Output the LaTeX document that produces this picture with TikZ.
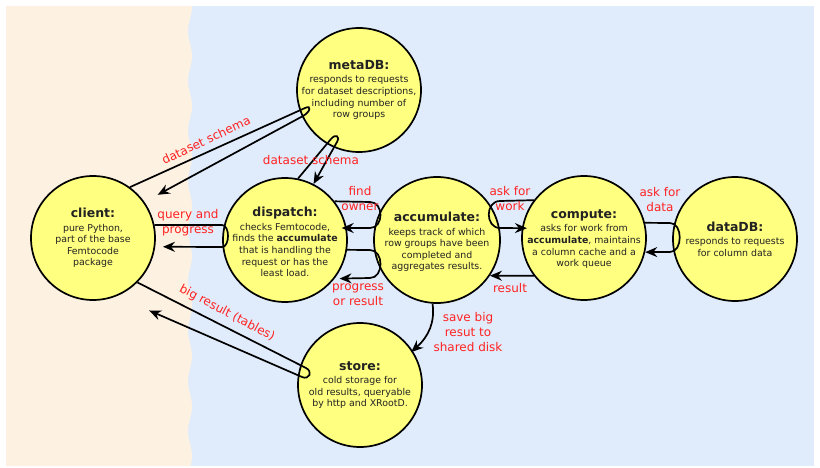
\documentclass[tikz,border=0pt]{standalone}
\usepackage{fontspec}
\setmainfont{DejaVu Sans}
\usetikzlibrary{arrows.meta,calc}
\definecolor{peach}{HTML}{FDF1E2}
\definecolor{skyb}{HTML}{E0ECFB}
\definecolor{nodey}{HTML}{FFFF80}
\definecolor{lblred}{HTML}{FF2222}
\definecolor{bodytxt}{HTML}{222222}
\newcommand\ttlfont{\fontsize{12.5}{14}\selectfont\bfseries}
\begin{document}
\begin{tikzpicture}[x=1pt,y=-1pt,
  proc/.style={circle, draw=black, line width=1.7pt, fill=nodey, minimum size=124pt, inner sep=0pt},
  txt/.style={align=center, font=\fontsize{9.4}{11.6}\selectfont, text=bodytxt, inner sep=0pt},
  lbl/.style={align=center, font=\fontsize{12}{15}\selectfont, text=lblred, inner sep=0pt},
  conn/.style={draw=black, line width=1.7pt, -{Stealth[length=12pt,width=10pt,inset=4pt]}}]
\useasboundingbox (0,0) rectangle (820,468);
% backgrounds
\fill[skyb] (180,6) rectangle (814,466);
\fill[peach] (6,6) -- plot[domain=6:466, samples=200] ({190+2*cos(7.2*(\x-6))},\x) -- (6,466) -- cycle;
% circles
\node[proc] (client) at (93,238) {};
\node[proc] (metaDB) at (359,90) {};
\node[proc] (dispatch) at (285,240) {};
\node[proc, minimum size=126pt] (accumulate) at (437,240) {};
\node[proc] (compute) at (584,238) {};
\node[proc] (dataDB) at (735,239) {};
\node[proc] (store) at (360,385) {};
% texts
\node[txt] (clientT) at (client) {{\ttlfont client:}\\[2pt]pure Python,\\part of the base\\Femtocode\\package};
\node[txt] (metaDBT) at (metaDB) {{\ttlfont metaDB:}\\[2pt]responds to requests\\for dataset descriptions,\\including number of\\row groups};
\node[txt] (dispatchT) at ([yshift=-2pt]dispatch.center) {{\ttlfont dispatch:}\\[2pt]checks Femtocode,\\finds the \textbf{accumulate}\\that is handling the\\request or has the\\least load.};
\node[txt] (accumulateT) at ([yshift=-2pt]accumulate.center) {{\ttlfont accumulate:}\\[2pt]keeps track of which\\row groups have been\\completed and\\aggregates results.};
\node[txt] (computeT) at ([yshift=-1pt]compute.center) {{\ttlfont compute:}\\[2pt]asks for work from\\\textbf{accumulate}, maintains\\a column cache and a\\work queue};
\node[txt] (dataDBT) at (dataDB) {{\ttlfont dataDB:}\\[2pt]responds to requests\\for column data};
\node[txt] (storeT) at (store) {{\ttlfont store:}\\[2pt]cold storage for\\old results, queryable\\by http and XRootD.};
% connectors
\draw[conn, shorten >=15pt] (client.54) -- (305,108) .. controls (312.3,104.7) and (310,112.2) .. (303,116) -- (client.35.5);
\draw[conn] (dispatch.78) -- (331,139) .. controls (335.4,133.6) and (340.4,135.9) .. (337,142) -- (dispatch.63);
\draw[conn, shorten >=7.7pt] (client.12) -- (222,225) .. controls (230,225) and (230,247) .. (222,247) -- (client.-8.3);
\draw[conn, shorten >=-5pt] (dispatch.38) -- (370,202) .. controls (384,202) and (384,228) .. (370,228) -- (dispatch.11);
\draw[conn, shorten >=5pt] (dispatch.-9) -- (370,250) .. controls (384,250) and (384,278) .. (370,278) -- (dispatch.-38);
\draw[conn, shorten >=-5pt] (compute.143) -- (500,201) .. controls (485,201) and (485,228) .. (500,228) -- (compute.171);
\draw[conn] (compute.14) -- (670,223) .. controls (683,223) and (683,252) .. (670,252) -- (compute.-13);
\draw[conn] (compute.217) -- (accumulate.-34);
\draw[conn, shorten >=-2pt] (accumulate.266) .. controls (435,322) and (429,336) .. (store.33);
\draw[conn, shorten >=35.6pt] (client.-45) -- (306,368) .. controls (313.1,371.6) and (309.3,380.2) .. (302,377) -- (client.-68.8);
% labels
\node[lbl, rotate=25] (l1) at (206,140) {dataset schema};
\node[lbl] (l2) at (311,160) {dataset schema};
\node[lbl] (l3) at (188,223) {query and\\progress};
\node[lbl] (l4) at (360,199) {find\\owner};
\node[lbl] (l5) at (358,295) {progress\\or result};
\node[lbl] (l6) at (510,199) {ask for\\work};
\node[lbl] (l7) at (660,200) {ask for\\data};
\node[lbl] (l8) at (510,288) {result};
\node[lbl] (l9) at (468,332) {save big\\resut to\\shared disk};
\node[lbl, rotate=-28] (l10) at (227,313) {big result (tables)};
\end{tikzpicture}
\end{document}
